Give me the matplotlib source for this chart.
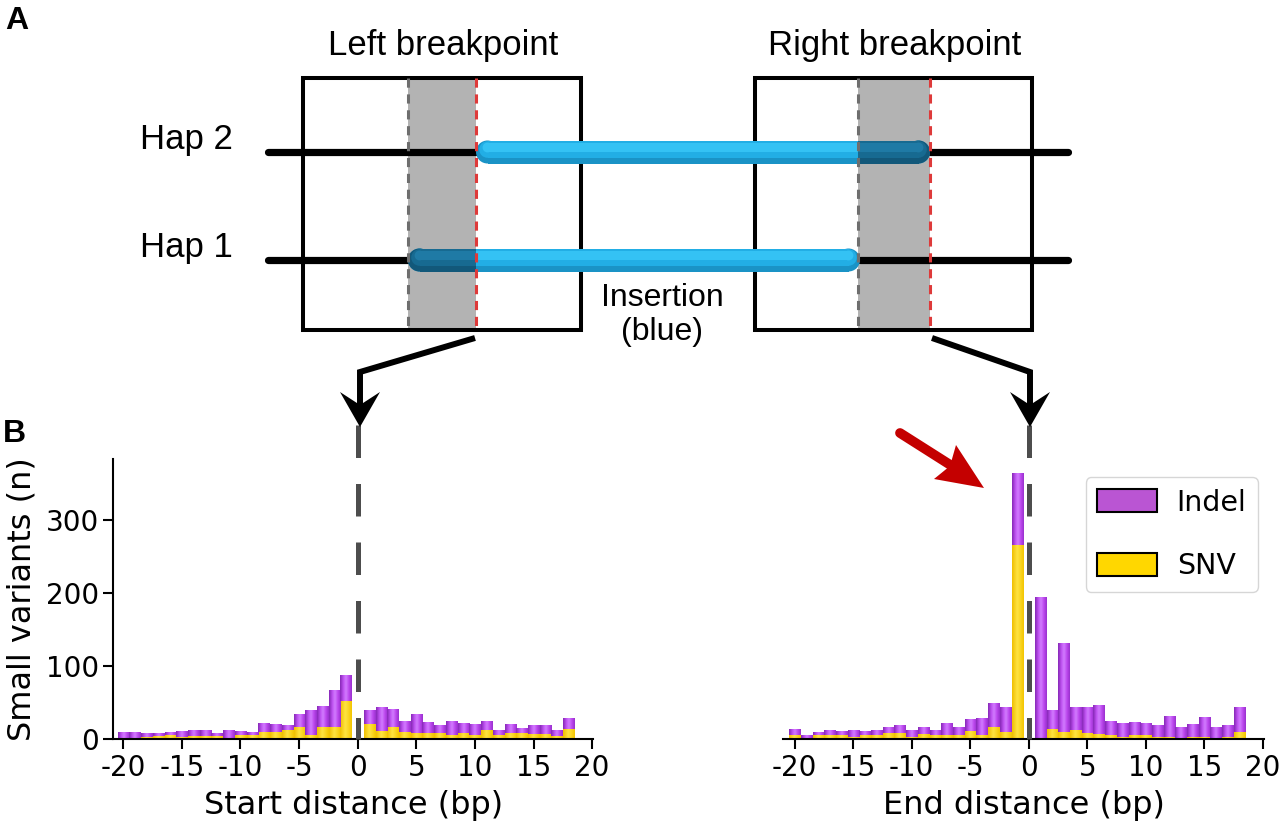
import numpy as np
import matplotlib
matplotlib.use("Agg")
import matplotlib.pyplot as plt
from matplotlib.colors import LinearSegmentedColormap
from matplotlib.patches import Polygon, Rectangle, Patch, Circle

plt.rcParams['axes.unicode_minus'] = False

# distances (bp) of the bars, no bar at 0
positions = list(range(-20, 0)) + list(range(1, 19))

# left breakpoint (start distance)
start_snv = [2, 2, 3, 4, 5, 3, 4, 4, 4, 2, 5, 6, 9, 9, 12, 16, 6, 17, 17, 52,
             21, 11, 16, 10, 8, 8, 8, 6, 8, 6, 12, 6, 8, 8, 7, 7, 4, 14]
start_indel = [7, 7, 5, 4, 3, 7, 8, 8, 3, 10, 5, 4, 12, 10, 6, 17, 33, 28, 50, 35,
               19, 32, 24, 15, 25, 15, 10, 19, 13, 15, 12, 6, 11, 6, 11, 11, 8, 15]

# right breakpoint (end distance)
end_snv = [5, 2, 5, 6, 5, 3, 5, 6, 8, 8, 3, 7, 5, 5, 5, 11, 5, 17, 10, 265,
           0, 14, 10, 12, 8, 7, 5, 3, 6, 5, 3, 3, 2, 3, 3, 2, 3, 10]
end_indel = [7, 3, 4, 6, 5, 9, 5, 6, 8, 10, 9, 9, 6, 16, 10, 16, 22, 32, 34, 98,
             193, 25, 121, 31, 35, 39, 19, 18, 17, 16, 16, 28, 15, 17, 26, 14, 16, 33]

xticks = [-20, -15, -10, -5, 0, 5, 10, 15, 20]
yticks = [0, 100, 200, 300]

purple_cm = LinearSegmentedColormap.from_list(
    'pur', [(0, '#8526b5'), (0.3, '#c155f4'), (0.5, '#d27eff'), (0.75, '#bd48ef'), (1, '#9830cc')])
yellow_cm = LinearSegmentedColormap.from_list(
    'yel', [(0, '#efbf00'), (0.45, '#ffe443'), (1, '#f3c500')])
grad = np.linspace(0, 1, 64).reshape(1, -1)


def shaded_bars(ax, xs, bottoms, heights, cmap, w=0.95):
    # cylinder-like shading of each bar
    for x, b, h in zip(xs, bottoms, heights):
        if h <= 0:
            continue
        ax.imshow(grad, extent=(x - w / 2, x + w / 2, b, b + h), aspect='auto',
                  cmap=cmap, interpolation='bicubic', zorder=2)


fig = plt.figure(figsize=(12.8, 8.27), dpi=100)

axL = fig.add_axes([113.3 / 1280, 1 - 739 / 827, 480 / 1280, 280 / 827])
axR = fig.add_axes([783 / 1280, 1 - 739 / 827, 481 / 1280, 280 / 827])

for ax, snv, indel, xlab, xl in [(axL, start_snv, start_indel, 'Start distance (bp)', (-20.85, 20.1)),
                                 (axR, end_snv, end_indel, 'End distance (bp)', (-21.0, 20.1))]:
    shaded_bars(ax, positions, [0] * len(snv), snv, yellow_cm)
    shaded_bars(ax, positions, snv, indel, purple_cm)
    ax.plot([0, 0], [430, 0], color='#4d4d4d', lw=3.6, dashes=(6.5, 5.2),
            clip_on=False, zorder=3)
    ax.set_xlim(*xl)
    ax.set_ylim(0, 383)
    ax.set_xticks(xticks)
    ax.set_xticklabels([str(t) for t in xticks])
    ax.set_xlabel(xlab, fontsize=23, labelpad=6)
    ax.tick_params(labelsize=20, length=7, width=1.5)
    ax.spines['top'].set_visible(False)
    ax.spines['right'].set_visible(False)
    for s in ax.spines.values():
        s.set_linewidth(1.5)
    ax.patch.set_alpha(0)

axL.set_yticks(yticks)
axL.set_ylabel('Small variants (n)', fontsize=23, labelpad=6)
axR.spines['left'].set_visible(False)
axR.set_yticks([])

handles = [Patch(facecolor='#ba55d3', edgecolor='black', lw=1.5, label='Indel'),
           Patch(facecolor='#ffd700', edgecolor='black', lw=1.5, label='SNV')]
axR.legend(handles=handles, loc='upper right', bbox_to_anchor=(1.005, 0.965), fontsize=20.5,
           handlelength=2.1, handleheight=0.87, handletextpad=0.7, labelspacing=1.25,
           borderpad=0.4, borderaxespad=0.3, edgecolor='#cccccc')

# ---- panel A schematic, drawn in pixel coordinates ----
ov = fig.add_axes([0, 0, 1, 1], zorder=5)
ov.set_xlim(0, 1280)
ov.set_ylim(827, 0)
ov.axis('off')
ov.patch.set_alpha(0)

diag_font = 'Liberation Sans'
boxes = [(303, 581, 408, 476), (755, 1032, 858, 930)]
for x0, x1, g0, g1 in boxes:
    ov.add_patch(Rectangle((g0, 78), g1 - g0, 252, facecolor='#b3b3b3', edgecolor='none', zorder=1))
    ov.add_patch(Rectangle((x0, 78), x1 - x0, 252, facecolor='none', edgecolor='black', lw=2.9, zorder=2))

# haplotype lines
y2, y1 = 152, 260
r = 11.5
ov.plot([268, 476], [y2, y2], color='black', lw=5.2, solid_capstyle='round', zorder=3)
ov.plot([930, 1068], [y2, y2], color='black', lw=5.2, solid_capstyle='round', zorder=3)
ov.plot([268, 408], [y1, y1], color='black', lw=5.2, solid_capstyle='round', zorder=3)
ov.plot([860, 1068], [y1, y1], color='black', lw=5.2, solid_capstyle='round', zorder=3)


def tube(xa, xb, y, cols, round_left=True, round_right=True):
    # stacked layers give a rough vertical shading of the tube
    layers = [(r, 0), (8.3, -2.5), (4.9, -4.5)]
    for (hh, dy), col in zip(layers, cols):
        xs = xa + r if round_left else xa
        xe = xb - r if round_right else xb
        ov.add_patch(Rectangle((xs, y + dy - hh), xe - xs, 2 * hh, facecolor=col,
                               edgecolor='none', zorder=4))
        if round_left:
            ov.add_patch(Circle((xa + r, y + dy), hh, facecolor=col, edgecolor='none', zorder=4))
        if round_right:
            ov.add_patch(Circle((xb - r, y + dy), hh, facecolor=col, edgecolor='none', zorder=4))


light = ['#1a93c6', '#22aee5', '#34c2f4']
dark = ['#12587a', '#176a91', '#1f7aa5']
tube(476, 930, y2, light)
tube(858, 930, y2, dark, round_left=False)
tube(408, 860, y1, light)
tube(408, 476, y1, dark, round_right=False)

for x0, x1, g0, g1 in boxes:
    ov.plot([g0, g0], [78, 330], color='#6e6e6e', lw=2.2, dashes=(3, 2.2), zorder=5)
    ov.plot([g1, g1], [78, 330], color='#de3a3a', lw=2.2, dashes=(3, 2.2), zorder=5)

ov.text(443, 45, 'Left breakpoint', fontsize=25, family=diag_font, ha='center', va='center')
ov.text(895, 45, 'Right breakpoint', fontsize=25, family=diag_font, ha='center', va='center')
ov.text(186, 140, 'Hap 2', fontsize=25, family=diag_font, ha='center', va='center')
ov.text(186, 247, 'Hap 1', fontsize=25, family=diag_font, ha='center', va='center')
ov.text(662, 315, 'Insertion\n(blue)', fontsize=23, family=diag_font, ha='center', va='center',
        linespacing=1.15)

# black bent arrows
ov.plot([475, 360, 360], [338, 372, 405], color='black', lw=4.3, solid_joinstyle='miter',
        solid_capstyle='butt', zorder=5)
ov.add_patch(Polygon([(360, 427), (340, 392), (360, 405), (380, 392)], closed=True,
                     facecolor='black', edgecolor='none', zorder=5))
ov.plot([932, 1030, 1030], [338, 372, 405], color='black', lw=4.3, solid_joinstyle='miter',
        solid_capstyle='butt', zorder=5)
ov.add_patch(Polygon([(1030, 427), (1010, 392), (1030, 405), (1050, 392)], closed=True,
                     facecolor='black', edgecolor='none', zorder=5))

# red arrow
ov.plot([900, 952], [433, 466], color='#c40000', lw=7, solid_capstyle='round', zorder=6)
ov.add_patch(Polygon([(984, 488), (956, 445), (950, 466), (934, 479)], closed=True,
                     facecolor='#c40000', edgecolor='none', zorder=6))

fig.text(5 / 1280, 1 - 21 / 827, 'A', fontsize=23, fontweight='bold', family=diag_font, va='center')
fig.text(3 / 1280, 1 - 434 / 827, 'B', fontsize=23, fontweight='bold', family=diag_font, va='center')

fig.savefig('out.png', dpi=100)
